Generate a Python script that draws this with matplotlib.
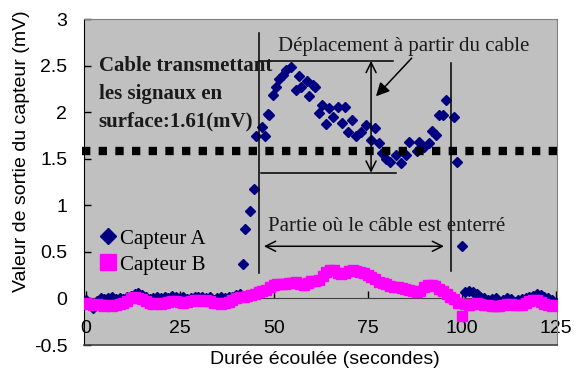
import matplotlib
matplotlib.use("Agg")
import matplotlib.pyplot as plt
import numpy as np

# ---------------- data ----------------
capteur_a_t = list(range(0, 42)) + [
    41.8, 42.5, 43.8, 44.7, 45.4, 46.9, 47.8, 48.4, 48.7, 49.8, 50.5, 51.4, 52.4, 53.3,
    54.6, 56.0, 56.7, 57.3, 58.8, 59.5, 60.4, 61.1, 62.0, 62.9, 63.9, 64.8, 65.7, 67.0,
    68.2, 69.0, 69.7, 70.8, 71.9, 73.2, 74.5, 75.9, 77.0, 77.9, 78.9, 79.8, 80.9, 82.5,
    83.8, 85.1, 86.0, 88.2, 88.7, 90.0, 91.3, 92.0, 93.1, 94.0, 95.0, 95.8, 98.0, 98.8,
    100.2] + list(range(101, 126))
capteur_a_v = [
    -0.02, -0.05, -0.10, -0.03, 0.00, -0.01, 0.00, 0.01, -0.01, 0.00, -0.01, 0.02, 0.03,
    0.05, 0.06, 0.04, 0.02, -0.01, 0.00, 0.01, 0.00, 0.01, 0.00, 0.03, 0.02, 0.00, 0.01,
    -0.01, 0.00, 0.01, 0.02, 0.01, 0.00, 0.01, -0.02, 0.00, 0.01, 0.00, 0.01, 0.02, 0.04,
    0.05,
    0.37, 0.75, 0.94, 1.18, 1.74, 1.84, 1.74, 1.98, 1.97, 2.18, 2.27, 2.36, 2.40, 2.45,
    2.48, 2.24, 2.39, 2.27, 2.33, 2.17, 2.29, 2.27, 1.99, 2.08, 1.87, 2.04, 1.95, 2.06,
    1.88, 2.06, 1.79, 1.92, 1.74, 1.79, 1.86, 1.70, 1.83, 1.67, 1.56, 1.50, 1.47, 1.54,
    1.45, 1.54, 1.68, 1.58, 1.68, 1.63, 1.67, 1.80, 1.75, 1.97, 1.97, 2.13, 1.95, 1.47,
    0.56,
    0.07, 0.08, 0.07, 0.05, 0.02, 0.00, -0.02, -0.01, 0.00, -0.05, -0.02, 0.00, -0.01,
    -0.04, -0.02, -0.01, 0.00, 0.01, 0.03, 0.05, 0.04, 0.02, 0.00, -0.02, -0.05]

capteur_b_t = list(range(0, 126))
capteur_b_v = [
    -0.05, -0.06, -0.07, -0.06, -0.07, -0.08, -0.07, -0.08, -0.07, -0.06, -0.05, -0.03,
    0.00, 0.01, 0.00, -0.01, -0.03, -0.05, -0.06, -0.05, -0.06, -0.05, -0.04, -0.03,
    -0.03, -0.04, -0.05, -0.04, -0.03, -0.02, -0.02, -0.03, -0.02, -0.03, -0.05, -0.05,
    -0.06, -0.05, -0.04, -0.02, 0.00, 0.01, 0.02, 0.03, 0.04, 0.05, 0.07, 0.08, 0.09,
    0.12, 0.14, 0.15, 0.16, 0.16, 0.17, 0.17, 0.18, 0.16, 0.14, 0.17, 0.19, 0.19, 0.20,
    0.24, 0.28, 0.30, 0.30, 0.27, 0.26, 0.27, 0.29, 0.30, 0.29, 0.28, 0.27, 0.25, 0.23,
    0.21, 0.18, 0.17, 0.15, 0.13, 0.12, 0.12, 0.11, 0.10, 0.09, 0.08, 0.07, 0.08, 0.12,
    0.14, 0.14, 0.13, 0.10, 0.08, 0.05, 0.02, -0.01, -0.05, -0.19, -0.06, -0.07, -0.06,
    -0.05, -0.06, -0.07, -0.07, -0.08, -0.08, -0.08, -0.07, -0.06, -0.06, -0.07, -0.07,
    -0.07, -0.05, -0.03, -0.02, -0.02, -0.04, -0.06, -0.07, -0.08, -0.07]

surface_level = 1.58
x_ticks = [0, 25, 50, 75, 100, 125]
y_ticks = [-0.5, 0, 0.5, 1, 1.5, 2, 2.5, 3]
y_tick_labels = ["-0.5", "0", "0.5", "1", "1.5", "2", "2.5", "3"]

# ---------------- figure ----------------
W, H = 583, 378
fig = plt.figure(figsize=(W / 100, H / 100), dpi=100)
ax = fig.add_axes([84 / W, 1 - 345 / H, (557 - 84) / W, (345 - 19) / H])
ax.set_facecolor("#C0C0C0")

serif = "Liberation Serif"
sans = "Liberation Sans"

ax.plot(capteur_a_t, capteur_a_v, linestyle="none", marker="D", markersize=5.2,
        color="#000080", label="Capteur A", zorder=3)
ax.plot(capteur_b_t, capteur_b_v, linestyle="none", marker="s", markersize=7.4,
        color="#FF00FF", label="Capteur B", zorder=4)

# dotted surface level line
ax.plot([-0.9, 126.2], [surface_level, surface_level], color="black", lw=6,
        linestyle=(0, (1, 1)), dash_capstyle="butt", clip_on=False, zorder=6)

ax.set_xlim(-0.45, 125.35)
ax.set_ylim(-0.5, 3)

# spines
ax.spines["left"].set_color("black")
ax.spines["top"].set_color("#808080")
ax.spines["right"].set_color("#808080")
ax.spines["bottom"].set_position(("data", 0))
ax.spines["bottom"].set_color("#404040")
ax.axhline(-0.5, color="#404040", lw=1.2, clip_on=False, zorder=7)

ax.set_xticks(x_ticks)
ax.set_xticklabels([str(v) for v in x_ticks], fontfamily=sans, fontsize=14)
ax.set_yticks(y_ticks)
ax.set_yticklabels(y_tick_labels, fontfamily=sans, fontsize=14)
ax.tick_params(axis="x", direction="in", length=5, width=1, pad=15.5)
ax.tick_params(axis="y", direction="in", length=5, width=1, pad=12)

fig.text(325 / W, 1 - 360 / H, "Durée écoulée (secondes)", ha="center", va="center",
         fontfamily=sans, fontsize=14)
fig.text(22 / W, 1 - 151 / H, "Valeur de sortie du capteur (mV)", ha="center",
         va="center", rotation=90, fontfamily=sans, fontsize=14)

# annotations
lw = 1.1
ax.plot([46.0, 46.0], [0.27, 2.85], color="black", lw=lw, zorder=5)
ax.plot([97.2, 97.2], [0.29, 2.53], color="black", lw=lw, zorder=5)
ax.plot([46.0, 81.6], [2.55, 2.55], color="black", lw=lw, zorder=5)
ax.plot([46.7, 82.5], [1.35, 1.35], color="black", lw=lw, zorder=5)
ax.annotate("", xy=(75.9, 2.55), xytext=(75.9, 1.35),
            arrowprops=dict(arrowstyle="<->", color="black", lw=lw,
                            mutation_scale=18, shrinkA=0, shrinkB=0), zorder=5)
ax.annotate("", xy=(47.4, 0.56), xytext=(95.3, 0.56),
            arrowprops=dict(arrowstyle="<->", color="black", lw=lw,
                            mutation_scale=18, shrinkA=0, shrinkB=0), zorder=5)
ax.annotate("", xy=(77.2, 2.17), xytext=(86.7, 2.58),
            arrowprops=dict(arrowstyle="-|>", color="black", lw=lw,
                            mutation_scale=20, shrinkA=0, shrinkB=0), zorder=5)

ax.text(84.7, 2.66, "Déplacement à partir du cable", ha="center", va="baseline",
        fontfamily=serif, fontsize=15, color="#1a1a1a", zorder=8)
ax.text(48.4, 0.72, "Partie où le câble est enterré", ha="left", va="baseline",
        fontfamily=serif, fontsize=15, color="#1a1a1a", zorder=8)

bold_lines = ["Cable transmettant", "les signaux en", "surface:1.61(mV)"]
bold_y = [2.446, 2.14, 1.85]
for txt, yy in zip(bold_lines, bold_y):
    ax.text(3.5, yy, txt, ha="left", va="baseline", fontfamily=serif,
            fontweight="bold", fontsize=15, color="#1a1a1a", zorder=8)

leg = ax.legend(loc="upper left", bbox_to_anchor=(0.003, 0.40), frameon=False,
                prop={"family": serif, "size": 15}, markerscale=1.6,
                handlelength=0.8, handletextpad=0.15, labelspacing=0.3,
                borderaxespad=0.3)

fig.savefig("out.png", dpi=100)
